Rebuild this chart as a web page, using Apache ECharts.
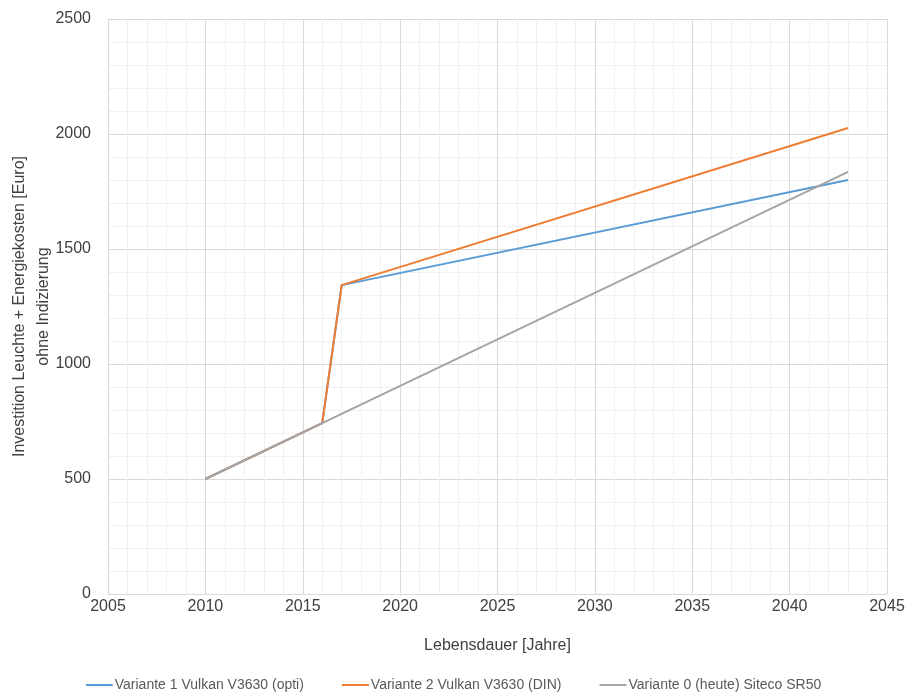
<!DOCTYPE html>
<html>
<head>
<meta charset="utf-8">
<script src="https://cdn.jsdelivr.net/npm/echarts@6/dist/echarts.min.js"></script>
<style>
  html, body { margin: 0; padding: 0; background: #fff; }
  #chart { width: 907px; height: 692px; }
</style>
</head>
<body>
<div id="chart"></div>
<script>
// Cumulative cost (investment + energy, not indexed) per lifetime year
const seriesNames = [
  'Variante 1 Vulkan V3630 (opti)',
  'Variante 2 Vulkan V3630 (DIN)',
  'Variante 0 (heute) Siteco SR50'
];
const years1 = [2010, 2016, 2017, 2043];
const values1 = [500, 743, 1343, 1800];
const years2 = [2010, 2016, 2017, 2043];
const values2 = [500, 743, 1343, 2026];
const years0 = [2010, 2016, 2043];
const values0 = [500, 743, 1835];
const colors = ['#5b9bd5', '#ed7d31', '#a5a5a5'];

const pairs = (xs, ys) => xs.map((x, i) => [x, ys[i]]);

const chart = echarts.init(document.getElementById('chart'), null, { renderer: 'canvas' });
const font = 'Liberation Sans, Arial, sans-serif';
const textColor = '#404040';

chart.setOption({
  animation: false,
  textStyle: { fontFamily: font },
  grid: { left: 108, right: 20, top: 19, bottom: 98, containLabel: false, outerBoundsMode: 'none' },
  legend: {
    top: 673,
    left: 'center',
    itemGap: 38,
    itemWidth: 27,
    itemHeight: 2,
    icon: 'rect',
    textStyle: { color: '#595959', fontSize: 14, fontFamily: font, padding: [0, 0, 0, -3] },
    data: seriesNames
  },
  xAxis: {
    type: 'value',
    min: 2005, max: 2045, interval: 5,
    name: 'Lebensdauer [Jahre]',
    nameLocation: 'middle',
    nameGap: 44,
    nameMoveOverlap: false,
    nameTextStyle: { color: textColor, fontSize: 16, fontFamily: font },
    axisLine: { show: true, lineStyle: { color: '#d9d9d9', width: 1 } },
    axisTick: { show: false },
    axisLabel: { color: textColor, fontSize: 16, margin: 5, fontFamily: font, formatter: v => String(v) },
    splitLine: { show: true, lineStyle: { color: '#d9d9d9', width: 1 } },
    minorTick: { show: false, splitNumber: 5 },
    minorSplitLine: { show: true, lineStyle: { color: '#f0f0f0', width: 1 } }
  },
  yAxis: {
    type: 'value',
    min: 0, max: 2500, interval: 500,
    name: 'Investition Leuchte + Energiekosten [Euro]\nohne Indizierung',
    nameLocation: 'middle',
    nameGap: 52,
    nameMoveOverlap: false,
    nameRotate: 90,
    nameTextStyle: { color: textColor, fontSize: 16, lineHeight: 24, fontFamily: font },
    axisLine: { show: true, lineStyle: { color: '#d9d9d9', width: 1 } },
    axisTick: { show: false },
    axisLabel: { color: textColor, fontSize: 16, margin: 17, fontFamily: font, formatter: v => String(v) },
    splitLine: { show: true, lineStyle: { color: '#d9d9d9', width: 1 } },
    minorTick: { show: false, splitNumber: 5 },
    minorSplitLine: { show: true, lineStyle: { color: '#f0f0f0', width: 1 } }
  },
  series: [
    { name: seriesNames[0], data: pairs(years1, values1) },
    { name: seriesNames[1], data: pairs(years2, values2) },
    { name: seriesNames[2], data: pairs(years0, values0) }
  ].map((s, i) => Object.assign({
    type: 'line',
    symbol: 'none',
    color: colors[i],
    lineStyle: { color: colors[i], width: 2 },
    itemStyle: { color: colors[i] }
  }, s))
});
</script>
</body>
</html>
